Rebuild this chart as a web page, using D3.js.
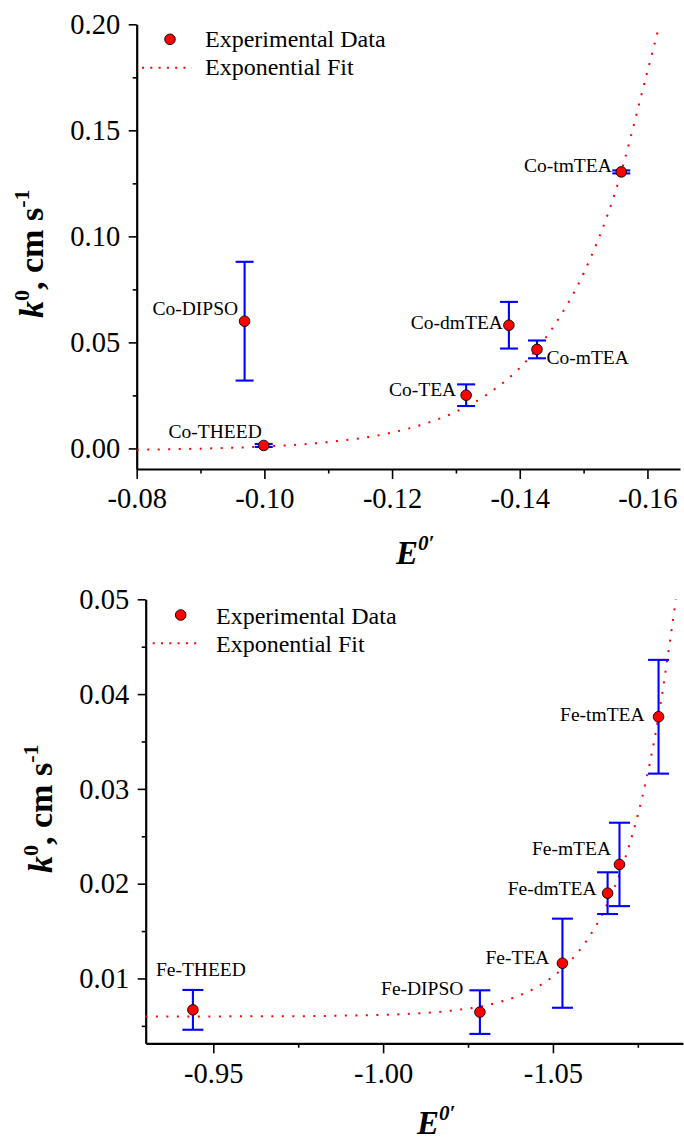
<!DOCTYPE html>
<html>
<head>
<meta charset="utf-8">
<script src="https://cdn.jsdelivr.net/npm/d3@7"></script>
<style>
  html, body { margin: 0; padding: 0; background: #fff; }
  svg { display: block; }
</style>
</head>
<body>
<script>
// ---------- DATA ----------
// Top panel: Co complexes
const coLabels = ["Co-THEED", "Co-DIPSO", "Co-TEA", "Co-dmTEA", "Co-mTEA", "Co-tmTEA"];
const coE      = [-0.0999, -0.0969, -0.1316, -0.1383, -0.1427, -0.1559];
const coK      = [0.0014, 0.0600, 0.0251, 0.0581, 0.0467, 0.1304];
const coErr    = [0.0007, 0.0280, 0.0051, 0.0110, 0.0042, 0.0007];
// exponential fit curve
const coFitE = [-0.080, -0.090, -0.100, -0.110, -0.120, -0.125, -0.130, -0.135, -0.140, -0.145, -0.150, -0.155, -0.160, -0.1619];
const coFitK = [-0.0006, -0.0001, 0.0009, 0.0030, 0.0075, 0.0115, 0.0173, 0.0257, 0.0380, 0.0562, 0.0826, 0.1213, 0.1778, 0.2000];
const coXTicks = [-0.08, -0.10, -0.12, -0.14, -0.16];
const coXMinor = [-0.09, -0.11, -0.13, -0.15];
const coYTicks = [0.00, 0.05, 0.10, 0.15, 0.20];
const coYMinor = [0.025, 0.075, 0.125, 0.175];

// Bottom panel: Fe complexes
const feLabels = ["Fe-THEED", "Fe-DIPSO", "Fe-TEA", "Fe-dmTEA", "Fe-mTEA", "Fe-tmTEA"];
const feE      = [-0.9440, -1.0285, -1.0528, -1.0661, -1.0696, -1.0811];
const feK      = [0.00669, 0.00645, 0.01161, 0.01900, 0.02203, 0.03761];
const feErr    = [0.0021, 0.0023, 0.0047, 0.0022, 0.0044, 0.0060];
const feFitE = [-0.930, -0.950, -0.970, -0.990, -1.000, -1.010, -1.020, -1.030, -1.040, -1.045, -1.050, -1.055, -1.060, -1.065, -1.070, -1.075, -1.080, -1.0862];
const feFitK = [0.00600, 0.00600, 0.00601, 0.00609, 0.00616, 0.00631, 0.00660, 0.00714, 0.00819, 0.00903, 0.01020, 0.01180, 0.01403, 0.01711, 0.02137, 0.02727, 0.03542, 0.05000];
const feXTicks = [-0.95, -1.00, -1.05];
const feXMinor = [-0.975, -1.025, -1.075];
const feYTicks = [0.01, 0.02, 0.03, 0.04, 0.05];
const feYMinor = [0.005, 0.015, 0.025, 0.035, 0.045];

const legendLabels = ["Experimental Data", "Exponential Fit"];

// ---------- LAYOUT / STYLE ----------
const W = 684, H = 1142;
const RED = "#ff0000", BLUE = "#0000ff";
const SERIF = '"Liberation Serif", "Times New Roman", Times, serif';
const TICK_FONT = 28.5, LABEL_FONT = 19.5, LEGEND_FONT = 24;

const svg = d3.select("body").append("svg")
  .attr("width", W).attr("height", H)
  .attr("viewBox", `0 0 ${W} ${H}`)
  .style("font-family", SERIF);
svg.append("rect").attr("width", W).attr("height", H).attr("fill", "#fff");

function drawPanel(cfg) {
  const g = svg.append("g").style("font-family", SERIF);
  const x = d3.scaleLinear().domain(cfg.xDomain).range([cfg.left, cfg.right]);
  const y = d3.scaleLinear().domain(cfg.yDomain).range([cfg.bottom, cfg.top]);
  const fmt = d => d.toFixed(2);

  // axes - minor ticks
  const yMinorAxis = g.append("g").attr("transform", `translate(${cfg.left},0)`)
    .call(d3.axisLeft(y).tickValues(cfg.yMinor).tickSize(4).tickSizeOuter(0).tickFormat(""));
  yMinorAxis.select(".domain").remove();
  const xMinorAxis = g.append("g").attr("transform", `translate(0,${cfg.bottom})`)
    .call(d3.axisBottom(x).tickValues(cfg.xMinor).tickSize(4.5).tickSizeOuter(0).tickFormat(""));
  xMinorAxis.select(".domain").remove();

  // major axes
  const yAxis = g.append("g").attr("transform", `translate(${cfg.left},0)`)
    .call(d3.axisLeft(y).tickValues(cfg.yTicks).tickSize(8).tickPadding(8.5).tickSizeOuter(0).tickFormat(fmt));
  const xAxis = g.append("g").attr("transform", `translate(0,${cfg.bottom})`)
    .call(d3.axisBottom(x).tickValues(cfg.xTicks).tickSize(10).tickPadding(9).tickSizeOuter(0).tickFormat(fmt));

  [yAxis, xAxis, yMinorAxis, xMinorAxis].forEach(a => {
    a.attr("font-family", null).attr("font-size", null);
    a.selectAll(".tick line").attr("stroke", "#000").attr("stroke-width", 1.6);
    a.selectAll(".tick text")
      .style("font-family", SERIF)
      .style("font-size", TICK_FONT + "px").attr("fill", "#000");
    a.select(".domain").attr("stroke", "#000").attr("stroke-width", 2.2);
  });

  // fit curve
  const fit = cfg.fitE.map((e, i) => [x(e), y(cfg.fitK[i])]);
  g.append("path")
    .attr("d", d3.line().curve(d3.curveMonotoneX)(fit))
    .attr("fill", "none").attr("stroke", RED).attr("stroke-width", 2)
    .attr("stroke-dasharray", "2,8.5");

  // error bars
  const pts = cfg.E.map((e, i) => ({ e, k: cfg.K[i], err: cfg.err[i], label: cfg.labels[i], off: cfg.offsets[i] }));
  const eb = g.append("g").attr("stroke", BLUE).attr("stroke-width", 2.1).attr("fill", "none");
  pts.forEach(p => {
    const cx = x(p.e), y1 = y(p.k + p.err), y2 = y(p.k - p.err), hw = cfg.cap / 2;
    eb.append("line").attr("x1", cx).attr("x2", cx).attr("y1", y1).attr("y2", y2);
    eb.append("line").attr("x1", cx - hw).attr("x2", cx + hw).attr("y1", y1).attr("y2", y1);
    eb.append("line").attr("x1", cx - hw).attr("x2", cx + hw).attr("y1", y2).attr("y2", y2);
  });

  // points
  g.append("g").selectAll("circle").data(pts).join("circle")
    .attr("cx", d => x(d.e)).attr("cy", d => y(d.k)).attr("r", 5.3)
    .attr("fill", RED).attr("stroke", "#000").attr("stroke-width", 0.9);

  // point labels
  g.append("g").selectAll("text").data(pts).join("text")
    .attr("x", d => x(d.e) + d.off[0]).attr("y", d => y(d.k) + d.off[1])
    .attr("text-anchor", d => d.off[2])
    .style("font-family", SERIF).style("font-size", LABEL_FONT + "px")
    .text(d => d.label);

  // legend
  const L = cfg.legend;
  g.append("circle").attr("cx", L.cx).attr("cy", L.cy).attr("r", 5.3)
    .attr("fill", RED).attr("stroke", "#000").attr("stroke-width", 0.9);
  g.append("text").attr("x", L.tx).attr("y", L.t1)
    .style("font-family", SERIF).style("font-size", LEGEND_FONT + "px").text(legendLabels[0]);
  g.append("line").attr("x1", L.lx1).attr("x2", L.lx2).attr("y1", L.ly).attr("y2", L.ly)
    .attr("stroke", RED).attr("stroke-width", 2).attr("stroke-dasharray", "2,6.3");
  g.append("text").attr("x", L.tx).attr("y", L.t2)
    .style("font-family", SERIF).style("font-size", LEGEND_FONT + "px").text(legendLabels[1]);

  // x title E0'
  const xt = g.append("text").attr("x", cfg.xTitle[0]).attr("y", cfg.xTitle[1])
    .style("font-family", SERIF)
    .attr("font-weight", "bold").attr("font-style", "italic").attr("font-size", 33);
  xt.append("tspan").text("E");
  xt.append("tspan").attr("font-size", 21).attr("dy", -14).text("0\u2032");

  // y title k0, cm s-1
  const yt = g.append("text")
    .attr("transform", `translate(${cfg.yTitle[0]},${cfg.yTitle[1]}) rotate(-90)`)
    .style("font-family", SERIF)
    .attr("font-weight", "bold").attr("font-size", 34);
  yt.append("tspan").attr("font-style", "italic").text("k");
  yt.append("tspan").attr("font-size", 22).attr("dy", -14).text("0");
  yt.append("tspan").attr("dy", 14).text(", cm s");
  yt.append("tspan").attr("font-size", 22).attr("dy", -14).text("-1");
}

drawPanel({
  xDomain: [-0.08, -0.1651], yDomain: [-0.0097, 0.20],
  left: 136.7, right: 680, top: 24.3, bottom: 469,
  xTicks: coXTicks, xMinor: coXMinor, yTicks: coYTicks, yMinor: coYMinor,
  E: coE, K: coK, err: coErr, labels: coLabels,
  offsets: [[-2, -7, "end"], [-6.5, -6, "end"], [-10, 1, "end"], [-6, 4, "end"], [9.5, 15, "start"], [-9.5, 0.5, "end"]],
  fitE: coFitE, fitK: coFitK, cap: 18,
  legend: { cx: 170, cy: 39.3, tx: 205, t1: 46.7, t2: 75, lx1: 142, lx2: 192, ly: 67.7 },
  xTitle: [396, 564], yTitle: [43, 318]
});

drawPanel({
  xDomain: [-0.9301, -1.0883], yDomain: [0.00316, 0.05],
  left: 145.7, right: 683, top: 599.3, bottom: 1043.3,
  xTicks: feXTicks, xMinor: feXMinor, yTicks: feYTicks, yMinor: feYMinor,
  E: feE, K: feK, err: feErr, labels: feLabels,
  offsets: [[8, -33.5, "middle"], [-16.5, -17, "end"], [-13, 0.5, "end"], [-11, 1.5, "end"], [-8.5, -9, "end"], [-14, 4, "end"]],
  fitE: feFitE, fitK: feFitK, cap: 21,
  legend: { cx: 180.7, cy: 615, tx: 216, t1: 624, t2: 651.7, lx1: 152.7, lx2: 202, ly: 643.3 },
  xTitle: [417, 1134], yTitle: [52, 873]
});
</script>
</body>
</html>
